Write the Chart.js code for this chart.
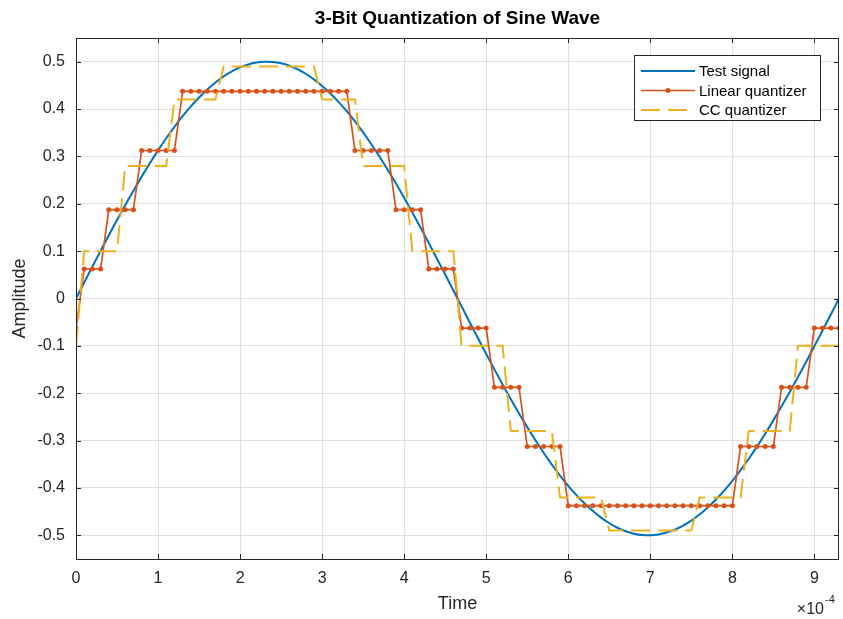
<!DOCTYPE html>
<html>
<head>
    <style>
        html, body {
            margin: 0;
            padding: 0;
            background: #ffffff;
        }
        #wrap {
            width: 843px;
            height: 619px;
        }
    </style>
    <script src="https://cdn.jsdelivr.net/npm/chart.js"></script>
</head>
<body>
    <div id="wrap">
        <canvas id="myChart" width="843" height="619"></canvas>
    </div>
    <script>
        // one sample every 10 microseconds
        var sampleStep = 1e-5;

        // sine test signal, 94 samples
        var testSignal = [
            0, 0.0338, 0.0674, 0.1006, 0.1335, 0.1657, 0.1972, 0.2277, 0.2573, 0.2856,
            0.3127, 0.3383, 0.3624, 0.3848, 0.4055, 0.4243, 0.4412, 0.4561, 0.4689, 0.4795,
            0.4880, 0.4942, 0.4982, 0.4999, 0.4994, 0.4965, 0.4914, 0.4840, 0.4745, 0.4627,
            0.4489, 0.4330, 0.4152, 0.3954, 0.3738, 0.3506, 0.3257, 0.2993, 0.2716, 0.2427,
            0.2126, 0.1816, 0.1497, 0.1172, 0.0841, 0.0506, 0.0169, -0.0169, -0.0506, -0.0841,
            -0.1172, -0.1497, -0.1816, -0.2126, -0.2427, -0.2716, -0.2993, -0.3257, -0.3506, -0.3738,
            -0.3954, -0.4152, -0.4330, -0.4489, -0.4627, -0.4745, -0.4840, -0.4914, -0.4965, -0.4994,
            -0.4999, -0.4982, -0.4942, -0.4880, -0.4795, -0.4689, -0.4561, -0.4412, -0.4243, -0.4055,
            -0.3848, -0.3624, -0.3383, -0.3127, -0.2856, -0.2573, -0.2277, -0.1972, -0.1657, -0.1335,
            -0.1006, -0.0674, -0.0338, 0
        ];

        // uniform 3-bit quantizer output
        var linearQuant = [
            -0.0625, 0.0625, 0.0625, 0.0625, 0.1875, 0.1875, 0.1875, 0.1875, 0.3125, 0.3125,
            0.3125, 0.3125, 0.3125, 0.4375, 0.4375, 0.4375, 0.4375, 0.4375, 0.4375, 0.4375,
            0.4375, 0.4375, 0.4375, 0.4375, 0.4375, 0.4375, 0.4375, 0.4375, 0.4375, 0.4375,
            0.4375, 0.4375, 0.4375, 0.4375, 0.3125, 0.3125, 0.3125, 0.3125, 0.3125, 0.1875,
            0.1875, 0.1875, 0.1875, 0.0625, 0.0625, 0.0625, 0.0625, -0.0625, -0.0625, -0.0625,
            -0.0625, -0.1875, -0.1875, -0.1875, -0.1875, -0.3125, -0.3125, -0.3125, -0.3125, -0.3125,
            -0.4375, -0.4375, -0.4375, -0.4375, -0.4375, -0.4375, -0.4375, -0.4375, -0.4375, -0.4375,
            -0.4375, -0.4375, -0.4375, -0.4375, -0.4375, -0.4375, -0.4375, -0.4375, -0.4375, -0.4375,
            -0.4375, -0.3125, -0.3125, -0.3125, -0.3125, -0.3125, -0.1875, -0.1875, -0.1875, -0.1875,
            -0.0625, -0.0625, -0.0625, -0.0625
        ];

        // CC quantizer output
        var ccQuant = [
            -0.1, 0.1, 0.1, 0.1, 0.1, 0.1, 0.28, 0.28, 0.28, 0.28,
            0.28, 0.28, 0.42, 0.42, 0.42, 0.42, 0.42, 0.42, 0.49, 0.49,
            0.49, 0.49, 0.49, 0.49, 0.49, 0.49, 0.49, 0.49, 0.49, 0.49,
            0.42, 0.42, 0.42, 0.42, 0.42, 0.28, 0.28, 0.28, 0.28, 0.28,
            0.28, 0.1, 0.1, 0.1, 0.1, 0.1, 0.1, -0.1, -0.1, -0.1,
            -0.1, -0.1, -0.1, -0.28, -0.28, -0.28, -0.28, -0.28, -0.28, -0.42,
            -0.42, -0.42, -0.42, -0.42, -0.42, -0.49, -0.49, -0.49, -0.49, -0.49,
            -0.49, -0.49, -0.49, -0.49, -0.49, -0.49, -0.42, -0.42, -0.42, -0.42,
            -0.42, -0.42, -0.28, -0.28, -0.28, -0.28, -0.28, -0.28, -0.1, -0.1,
            -0.1, -0.1, -0.1, -0.1
        ];

        var seriesNames = ['Test signal', 'Linear quantizer', 'CC quantizer'];

        var xTicks = [0, 1e-4, 2e-4, 3e-4, 4e-4, 5e-4, 6e-4, 7e-4, 8e-4, 9e-4];
        var xTickLabels = ['0', '1', '2', '3', '4', '5', '6', '7', '8', '9'];
        var yTicks = [-0.5, -0.4, -0.3, -0.2, -0.1, 0, 0.1, 0.2, 0.3, 0.4, 0.5];
        var yTickLabels = ['-0.5', '-0.4', '-0.3', '-0.2', '-0.1', '0', '0.1', '0.2', '0.3', '0.4', '0.5'];

        var FONT = '"Liberation Sans", Arial, Helvetica, sans-serif';
        var AXIS_COLOR = '#262626';
        Chart.defaults.font.family = FONT;
        Chart.defaults.color = AXIS_COLOR;

        function toPoints(values) {
            return values.map(function(v, i) {
                return { x: i * sampleStep, y: v };
            });
        }

        // title centred over the plot box, plus the x10^-4 exponent
        var plotText = {
            id: 'plotText',
            afterDraw: function(chart) {
                var ctx = chart.ctx, a = chart.chartArea;
                ctx.save();
                ctx.fillStyle = '#000000';
                ctx.font = 'bold 19px ' + FONT;
                ctx.textAlign = 'center';
                ctx.textBaseline = 'middle';
                ctx.fillText('3-Bit Quantization of Sine Wave', (a.left + a.right) / 2, 19);

                ctx.fillStyle = AXIS_COLOR;
                ctx.textAlign = 'right';
                ctx.font = '16px ' + FONT;
                ctx.fillText('\u00d710', a.right - 15, 610);
                ctx.textAlign = 'left';
                ctx.font = '11px ' + FONT;
                ctx.fillText('-4', a.right - 14, 600);
                ctx.restore();
            }
        };

        // box around the plot with inward tick marks on every side
        var axesBox = {
            id: 'axesBox',
            afterDatasetsDraw: function(chart) {
                var ctx = chart.ctx, a = chart.chartArea;
                var xs = chart.scales.x, ys = chart.scales.y;
                var len = 5;
                ctx.save();
                ctx.strokeStyle = AXIS_COLOR;
                ctx.lineWidth = 1;
                ctx.beginPath();
                xs.ticks.forEach(function(t) {
                    var px = Math.round(xs.getPixelForValue(t.value)) + 0.5;
                    ctx.moveTo(px, a.bottom);
                    ctx.lineTo(px, a.bottom - len);
                    ctx.moveTo(px, a.top);
                    ctx.lineTo(px, a.top + len);
                });
                ys.ticks.forEach(function(t) {
                    var py = Math.round(ys.getPixelForValue(t.value)) + 0.5;
                    ctx.moveTo(a.left, py);
                    ctx.lineTo(a.left + len, py);
                    ctx.moveTo(a.right, py);
                    ctx.lineTo(a.right - len, py);
                });
                ctx.stroke();
                ctx.strokeRect(Math.round(a.left) + 0.5, Math.round(a.top) + 0.5,
                    Math.round(a.right - a.left) - 1, Math.round(a.bottom - a.top));
                ctx.restore();
            }
        };

        // legend box in the upper right corner of the plot
        var boxLegend = {
            id: 'boxLegend',
            afterDraw: function(chart) {
                var ctx = chart.ctx, a = chart.chartArea;
                var w = 187, h = 66;
                var x0 = a.right - 18 - w, y0 = a.top + 17;
                ctx.save();
                ctx.fillStyle = '#ffffff';
                ctx.fillRect(x0, y0, w, h);
                ctx.strokeStyle = AXIS_COLOR;
                ctx.lineWidth = 1;
                ctx.strokeRect(x0 + 0.5, y0 + 0.5, w - 1, h - 1);
                ctx.font = '15px ' + FONT;
                ctx.textBaseline = 'middle';
                chart.data.datasets.forEach(function(ds, i) {
                    var cy = y0 + 16 + i * 19.5;
                    ctx.strokeStyle = ds.borderColor;
                    ctx.lineWidth = ds.borderWidth;
                    ctx.setLineDash(ds.borderDash || []);
                    ctx.beginPath();
                    ctx.moveTo(x0 + 7, cy);
                    ctx.lineTo(x0 + 61, cy);
                    ctx.stroke();
                    ctx.setLineDash([]);
                    if (ds.pointRadius > 0) {
                        ctx.fillStyle = ds.pointBackgroundColor;
                        ctx.beginPath();
                        ctx.arc(x0 + 34, cy, ds.pointRadius, 0, Math.PI * 2);
                        ctx.fill();
                    }
                    ctx.fillStyle = '#000000';
                    ctx.fillText(ds.label, x0 + 65, cy + 1);
                });
                ctx.restore();
            }
        };

        var ctx = document.getElementById('myChart').getContext('2d');
        var myChart = new Chart(ctx, {
            type: 'line',
            data: {
                datasets: [{
                    label: seriesNames[0],
                    data: toPoints(testSignal),
                    borderColor: '#0072BD',
                    borderWidth: 2,
                    pointRadius: 0,
                    cubicInterpolationMode: 'monotone',
                    order: 3
                }, {
                    label: seriesNames[1],
                    data: toPoints(linearQuant),
                    borderColor: '#D95319',
                    borderWidth: 1.7,
                    pointRadius: 2.5,
                    pointBackgroundColor: '#D95319',
                    pointBorderColor: '#D95319',
                    pointBorderWidth: 0,
                    order: 2
                }, {
                    label: seriesNames[2],
                    data: toPoints(ccQuant),
                    borderColor: '#EDB120',
                    borderWidth: 2,
                    borderDash: [19, 8],
                    pointRadius: 0,
                    order: 1
                }]
            },
            options: {
                responsive: false,
                animation: false,
                devicePixelRatio: 1,
                layout: {
                    padding: { top: 38, right: 2, left: 0, bottom: 0 }
                },
                plugins: {
                    legend: { display: false },
                    title: { display: false },
                    tooltip: { enabled: false }
                },
                scales: {
                    x: {
                        type: 'linear',
                        min: 0,
                        max: 9.3e-4,
                        afterBuildTicks: function(scale) {
                            scale.ticks = xTicks.map(function(v) { return { value: v }; });
                        },
                        afterFit: function(scale) {
                            scale.height = 60;
                        },
                        ticks: {
                            callback: function(value, index) { return xTickLabels[index]; },
                            font: { size: 16 },
                            color: AXIS_COLOR,
                            padding: 10,
                            maxRotation: 0,
                            autoSkip: false
                        },
                        grid: { color: '#e0e0e0', drawTicks: false },
                        border: { display: false },
                        title: {
                            display: true,
                            text: 'Time',
                            font: { size: 18 },
                            color: AXIS_COLOR,
                            padding: { top: 0, bottom: 4 }
                        }
                    },
                    y: {
                        min: -0.55,
                        max: 0.55,
                        afterBuildTicks: function(scale) {
                            scale.ticks = yTicks.map(function(v) { return { value: v }; });
                        },
                        afterFit: function(scale) {
                            scale.width = 76;
                        },
                        ticks: {
                            callback: function(value, index) { return yTickLabels[index]; },
                            font: { size: 16 },
                            color: AXIS_COLOR,
                            padding: 11,
                            autoSkip: false
                        },
                        grid: { color: '#e0e0e0', drawTicks: false },
                        border: { display: false },
                        title: {
                            display: true,
                            text: 'Amplitude',
                            font: { size: 18 },
                            color: AXIS_COLOR,
                            padding: { top: 9, bottom: 0 }
                        }
                    }
                }
            },
            plugins: [axesBox, boxLegend, plotText]
        });
    </script>
</body>
</html>
